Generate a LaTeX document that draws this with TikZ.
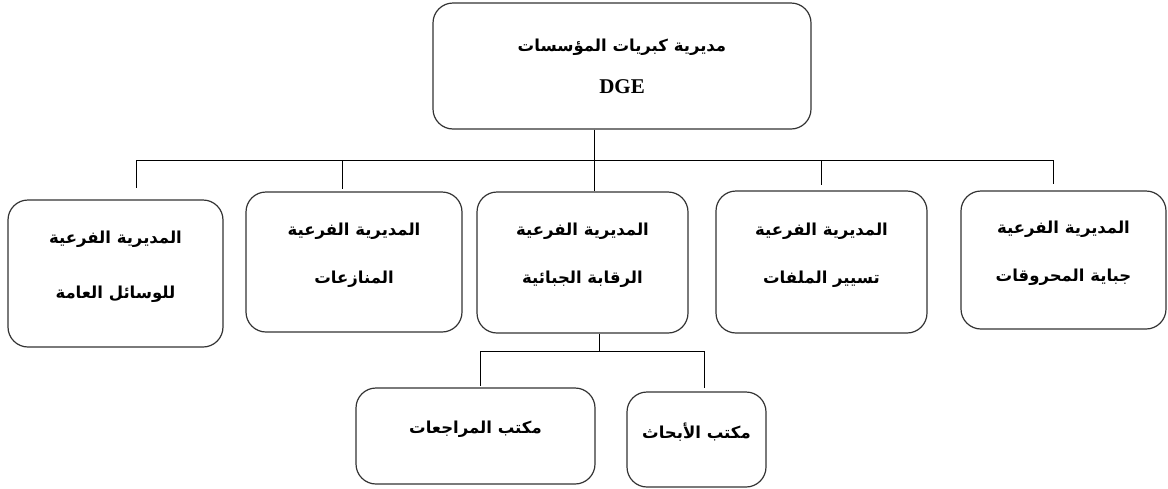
\documentclass[tikz,border=0pt]{standalone}
\usepackage{fontspec}
\usepackage{tikz}
\TeXXeTstate=1
\newfontfamily\arabicfont[Script=Arabic]{DejaVu Sans}
\newfontfamily\latinfont{Liberation Serif}
\newcommand{\artext}[1]{\beginR #1\endR}
\newcommand{\lowpad}{\rule[-18pt]{0pt}{0pt}}
\tikzstyle{unit} = [rectangle, rounded corners=20pt, draw=black!80, line width=1.2pt, align=center, font=\arabicfont\bfseries\fontsize{16.5}{48}\selectfont]
\tikzstyle{link} = [line width=1pt]

\begin{document}
\begin{tikzpicture}[x=1pt, y=-1pt]
\useasboundingbox (0,0) rectangle (1168,488);
\node (dge) [unit, minimum width=378pt, minimum height=126pt, font=\arabicfont\bfseries\fontsize{16.5}{42}\selectfont] at (622,66) {\artext{مديرية كبريات المؤسسات}\\{\latinfont\bfseries\fontsize{21}{42}\selectfont DGE}};
\node (means) [unit, minimum width=215pt, minimum height=147pt, font=\arabicfont\bfseries\fontsize{16.5}{55}\selectfont] at (115.5,273.5) {\artext{المديرية الفرعية}\\\artext{للوسائل العامة}\lowpad};
\node (disputes) [unit, minimum width=216pt, minimum height=140pt] at (354,262) {\artext{المديرية الفرعية}\\\artext{المنازعات}\lowpad};
\node (control) [unit, minimum width=211pt, minimum height=141pt] at (582.5,262.5) {\artext{المديرية الفرعية}\\\artext{الرقابة الجبائية}\lowpad};
\node (files) [unit, minimum width=211pt, minimum height=142pt] at (821.5,262) {\artext{المديرية الفرعية}\\\artext{تسيير الملفات}\lowpad};
\node (fuel) [unit, minimum width=205pt, minimum height=138pt] at (1063.5,260) {\artext{المديرية الفرعية}\\\artext{جباية المحروقات}\lowpad};
\node (audits) [unit, minimum width=239pt, minimum height=96pt] at (475.5,436) {\artext{مكتب المراجعات}\lowpad};
\node (research) [unit, minimum width=139pt, minimum height=95pt] at (696.5,439.5) {\artext{مكتب الأبحاث}\lowpad};

% upper level
\coordinate (busW) at (136,160);
\coordinate (busB) at (342,160);
\coordinate (busE) at (1053,160);
\draw [link] (busW) -- (busE);
\draw [link] ([xshift=-28pt]dge.south) -- ([xshift=11.5pt]control.north);
\draw [link] (busW) -- ([yshift=11pt]means.north -| busW);
\draw [link] (busB) -- ([yshift=2pt]disputes.north -| busB);
\draw [link] (files.north |- busE) -- ([yshift=5pt]files.north);
\draw [link] (busE) -- ([yshift=6pt]fuel.north -| busE);

% lower level
\coordinate (subW) at (480,351);
\coordinate (subE) at (704,351);
\draw [link] ([xshift=16.5pt]control.south) -- ([xshift=16.5pt]control.south |- subW);
\draw [link] (subW) -- (subE);
\draw [link] (subW) -- ([yshift=1pt]audits.north -| subW);
\draw [link] (subE) -- ([yshift=3pt]research.north -| subE);
\end{tikzpicture}
\end{document}
